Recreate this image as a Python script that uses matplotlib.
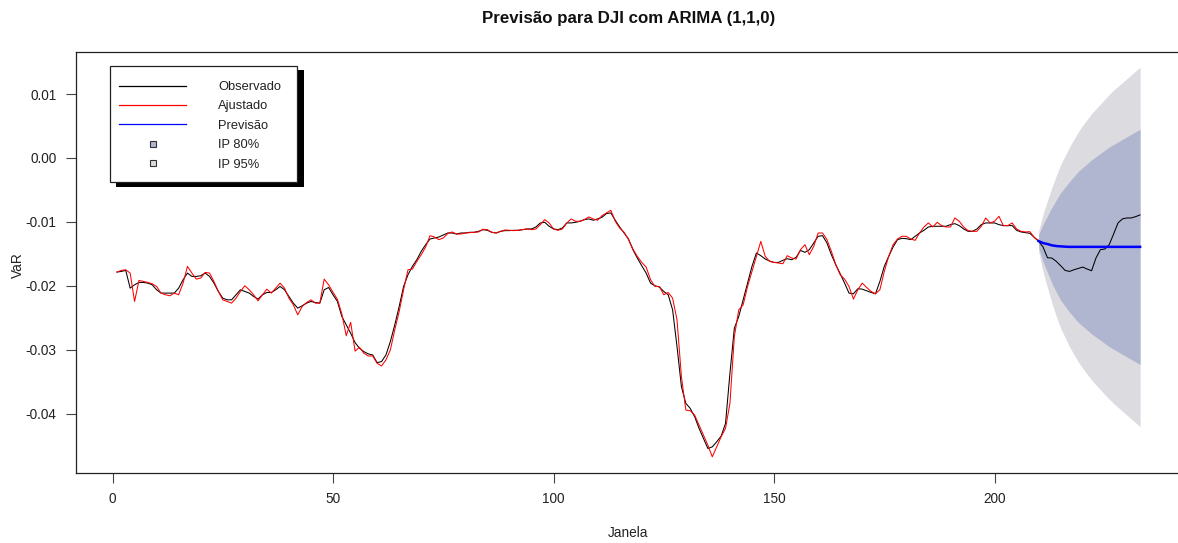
import matplotlib
matplotlib.use("Agg")
import matplotlib.pyplot as plt
from matplotlib.patches import Rectangle
from matplotlib.lines import Line2D
import numpy as np

plt.rcParams['font.family'] = ['Liberation Sans', 'DejaVu Sans']

# ---------------- data ----------------
observed = [-v / 1000 for v in [
    17.84, 17.74, 17.58, 20.35, 19.83, 19.46, 19.46, 19.57, 19.83, 20.61,
    21.13, 21.13, 21.13, 21.13, 20.35, 19.04, 18.00, 18.52, 18.52, 18.42,
    18.00, 18.52, 19.57, 20.87, 21.92, 22.18, 22.18, 21.39, 20.61, 20.87,
    21.13, 21.66, 22.07, 21.39, 21.03, 21.03, 20.61, 20.09, 20.61, 21.66,
    22.70, 23.48, 23.12, 22.70, 22.44, 22.60, 22.70, 20.61, 20.25, 21.39,
    22.44, 24.79, 26.10, 27.40, 28.87, 29.75, 30.28, 30.64, 30.80, 32.00,
    31.84, 30.80, 28.71, 26.10, 23.22, 20.09, 18.26, 16.95, 15.91, 14.60,
    13.56, 12.67, 12.51, 12.36, 12.04, 11.73, 11.73, 11.89, 11.73, 11.73,
    11.62, 11.62, 11.47, 11.21, 11.31, 11.62, 11.73, 11.47, 11.36, 11.36,
    11.31, 11.31, 11.21, 11.10, 11.10, 10.79, 10.16, 10.06, 10.68, 11.10,
    11.21, 10.95, 10.16, 10.16, 10.06, 9.90, 9.64, 9.53, 9.74, 9.53,
    9.27, 8.70, 8.59, 9.74, 10.79, 11.73, 12.67, 14.34, 15.65, 16.85,
    18.00, 19.57, 19.98, 20.19, 20.87, 21.39, 23.75, 29.49, 35.76, 38.37,
    39.16, 40.46, 42.29, 43.86, 45.43, 45.17, 44.38, 43.50, 41.51, 33.67,
    26.62, 24.79, 22.18, 19.57, 16.95, 14.86, 15.28, 15.80, 16.12, 16.33,
    16.33, 16.01, 15.75, 15.91, 15.54, 14.45, 14.76, 14.34, 13.30, 12.25,
    12.15, 13.30, 15.13, 16.69, 18.10, 19.57, 21.13, 21.24, 20.45, 20.51,
    20.77, 21.03, 21.24, 19.31, 16.95, 15.39, 13.92, 12.77, 12.57, 12.62,
    12.77, 12.25, 11.73, 11.31, 10.79, 10.68, 10.68, 10.68, 10.68, 10.42,
    10.27, 10.58, 11.10, 11.47, 11.47, 11.10, 10.42, 10.16, 10.16, 10.16,
    10.42, 10.58, 10.58, 10.58, 11.31, 11.57, 11.68, 11.78, 12.41, 13.04,
    13.92, 15.60, 15.65, 16.17, 16.85, 17.58, 17.74, 17.48, 17.27, 17.06,
    17.37, 17.63, 15.65, 14.34, 14.24, 13.56, 11.89, 10.16, 9.53, 9.38,
    9.38, 9.17, 8.91]]

fitted = [-v / 1000 for v in [
    17.84, 17.58, 17.48, 18.00, 22.44, 19.15, 19.31, 19.46, 19.67, 20.09,
    21.13, 21.39, 21.55, 21.13, 21.39, 19.57, 16.95, 18.00, 18.94, 18.78,
    17.89, 18.00, 19.31, 20.87, 22.18, 22.44, 22.70, 21.92, 20.87, 19.98,
    20.61, 21.39, 22.34, 21.39, 20.51, 21.13, 20.35, 19.57, 20.35, 21.92,
    22.96, 24.53, 23.22, 22.60, 22.18, 22.70, 22.70, 18.94, 19.83, 21.00,
    22.10, 24.40, 27.80, 25.70, 30.20, 29.60, 30.54, 30.96, 30.96, 32.11,
    32.52, 31.58, 30.02, 26.88, 24.01, 20.61, 17.48, 17.37, 16.17, 15.13,
    13.92, 12.15, 12.36, 12.77, 12.51, 11.83, 11.57, 11.89, 11.89, 11.73,
    11.68, 11.62, 11.57, 11.15, 11.21, 11.62, 11.73, 11.47, 11.26, 11.31,
    11.36, 11.31, 11.21, 11.10, 11.21, 11.10, 10.42, 9.64, 10.16, 11.10,
    11.31, 11.10, 10.16, 9.53, 9.90, 9.90, 9.64, 9.22, 9.53, 9.74,
    9.01, 8.59, 8.18, 9.90, 10.95, 11.62, 12.77, 14.24, 15.39, 16.33,
    17.06, 19.04, 20.09, 20.09, 21.39, 21.03, 21.92, 25.31, 34.20, 39.42,
    39.52, 40.20, 41.77, 43.34, 44.91, 46.73, 45.17, 43.60, 42.29, 38.37,
    27.93, 23.75, 22.96, 20.09, 17.74, 15.39, 13.04, 15.39, 16.17, 16.33,
    16.43, 16.54, 15.28, 15.65, 15.80, 14.34, 13.56, 15.13, 13.82, 11.73,
    11.73, 12.77, 14.60, 16.69, 18.26, 18.94, 20.09, 22.07, 20.61, 19.57,
    20.25, 20.87, 21.24, 20.61, 17.74, 15.39, 13.56, 12.67, 12.25, 12.25,
    12.67, 12.88, 11.73, 10.79, 10.16, 10.79, 10.06, 10.58, 10.79, 10.79,
    9.38, 9.90, 10.79, 11.36, 11.47, 11.47, 10.68, 9.38, 10.16, 9.90,
    9.12, 10.58, 10.58, 10.16, 11.10, 11.47, 11.57, 11.52, 12.41, 12.93]]

fc_start = 210
forecast = [-0.01300, -0.01330, -0.01346, -0.01366, -0.01377, -0.01382,
            -0.01387, -0.0139, -0.0139, -0.0139, -0.0139, -0.0139,
            -0.0139, -0.0139, -0.0139, -0.0139, -0.0139, -0.0139,
            -0.0139, -0.0139, -0.0139, -0.0139, -0.0139, -0.0139]
upper95 = [-0.0114, -0.0088, -0.00666, -0.00466, -0.00277, -0.00102,
           0.00033, 0.0017, 0.0029, 0.0041, 0.0051, 0.0060,
           0.0069, 0.0077, 0.0084, 0.0092, 0.0099, 0.0106,
           0.0112, 0.0118, 0.0124, 0.0130, 0.0136, 0.0142]
lower95 = [-0.0146, -0.0178, -0.02026, -0.02266, -0.02477, -0.02662,
           -0.02807, -0.0295, -0.0307, -0.0319, -0.0329, -0.0338,
           -0.0347, -0.0355, -0.0362, -0.0370, -0.0377, -0.0384,
           -0.0390, -0.0396, -0.0402, -0.0408, -0.0414, -0.0420]
upper80 = [-0.01195, -0.0104, -0.00906, -0.00776, -0.00657, -0.00542,
           -0.00457, -0.0037, -0.0029, -0.0021, -0.0015, -0.0009,
           -0.0003, 0.0002, 0.0007, 0.0012, 0.0017, 0.0021,
           0.0025, 0.0029, 0.0033, 0.0037, 0.0041, 0.0045]
lower80 = [-0.01405, -0.0162, -0.01786, -0.01956, -0.02097, -0.02222,
           -0.02317, -0.0241, -0.0249, -0.0257, -0.0263, -0.0269,
           -0.0275, -0.0280, -0.0285, -0.0290, -0.0295, -0.0299,
           -0.0303, -0.0307, -0.0311, -0.0315, -0.0319, -0.0323]

x_ticks = [0, 50, 100, 150, 200]
y_ticks = [0.01, 0.00, -0.01, -0.02, -0.03, -0.04]
y_ticklabels = ["0.01", "0.00", "-0.01", "-0.02", "-0.03", "-0.04"]
legend_labels = ["Observado", "Ajustado", "Previsão", "IP 80%", "IP 95%"]

title = "Previsão para DJI com ARIMA (1,1,0)"
xlabel = "Janela"
ylabel = "VaR"

# ---------------- figure ----------------
W, H = 1178, 543
fig = plt.figure(figsize=(W / 100, H / 100), dpi=100)
fig.patch.set_facecolor("white")

def fx(px):
    return px / W

def fy(py):
    return 1 - py / H

ax_left, ax_right, ax_top, ax_bottom = 76, 1181, 52, 473
ax = fig.add_axes([fx(ax_left), fy(ax_bottom), fx(ax_right - ax_left),
                   (ax_bottom - ax_top) / H])

col95 = "#DBDBE0"
col80 = "#B0B5D0"

x_obs = np.arange(1, len(observed) + 1)
x_fit = np.arange(1, len(fitted) + 1)
x_fc = np.arange(fc_start, fc_start + len(forecast))

ax.fill_between(x_fc, lower95, upper95, color=col95, lw=0, zorder=1)
ax.fill_between(x_fc, lower80, upper80, color=col80, lw=0, zorder=2)
ax.plot(x_obs, observed, color="black", lw=0.75, zorder=3)
ax.plot(x_fit, fitted, color="red", lw=0.75, zorder=4)
ax.plot(x_fc, forecast, color="#0000FF", lw=1.8, zorder=5)

ax.set_xlim(-8.28, 242.28)
ax.set_ylim(-0.04926, 0.01657)

ax.set_xticks(x_ticks)
ax.set_xticklabels([str(t) for t in x_ticks])
ax.set_yticks(y_ticks)
ax.set_yticklabels(y_ticklabels)
ax.tick_params(axis="both", direction="out", length=7, width=0.8,
               colors="#444444", labelsize=9.8, labelcolor="#222222")
ax.tick_params(axis="x", pad=7)
ax.tick_params(axis="y", pad=7)
for s in ax.spines.values():
    s.set_linewidth(0.9)
    s.set_color("#222222")

fig.text(fx(628.5), fy(19), title, ha="center", va="center",
         fontsize=12.2, fontweight="bold", color="#111111")
fig.text(fx(628.5), fy(533), xlabel, ha="center", va="center",
         fontsize=9.8, color="#222222")
fig.text(fx(18), fy(265), ylabel, ha="center", va="center",
         fontsize=9.8, rotation=90, color="#222222")

# ---------------- legend (drawn like R's boxed legend with shadow) ----------------
shadow = Rectangle((fx(116), fy(187)), fx(304 - 116), (187 - 70) / H,
                   transform=fig.transFigure, facecolor="black",
                   edgecolor="none", zorder=10)
box = Rectangle((fx(110), fy(182)), fx(297 - 110), (182 - 66) / H,
                transform=fig.transFigure, facecolor="white",
                edgecolor="#222222", lw=0.9, zorder=11)
fig.patches.extend([shadow, box])

rows = [85.5, 104.5, 124, 143.5, 162.5]
line_cols = ["black", "red", "#0000FF"]
for i, (lab, py) in enumerate(zip(legend_labels, rows)):
    if i < 3:
        fig.lines.append(Line2D([fx(119), fx(186)], [fy(py), fy(py)],
                                transform=fig.transFigure,
                                color=line_cols[i], lw=0.9, zorder=12))
    else:
        fc = col80 if i == 3 else col95
        fig.patches.append(Rectangle((fx(149.5), fy(py + 3)), fx(6), 6 / H,
                                     transform=fig.transFigure,
                                     facecolor=fc, edgecolor="#333333",
                                     lw=0.8, zorder=12))
    fig.text(fx(218), fy(py + 2), lab, ha="left", va="center",
             fontsize=9.3, color="#222222", zorder=13)

fig.savefig("out.png", dpi=100, facecolor="white")
